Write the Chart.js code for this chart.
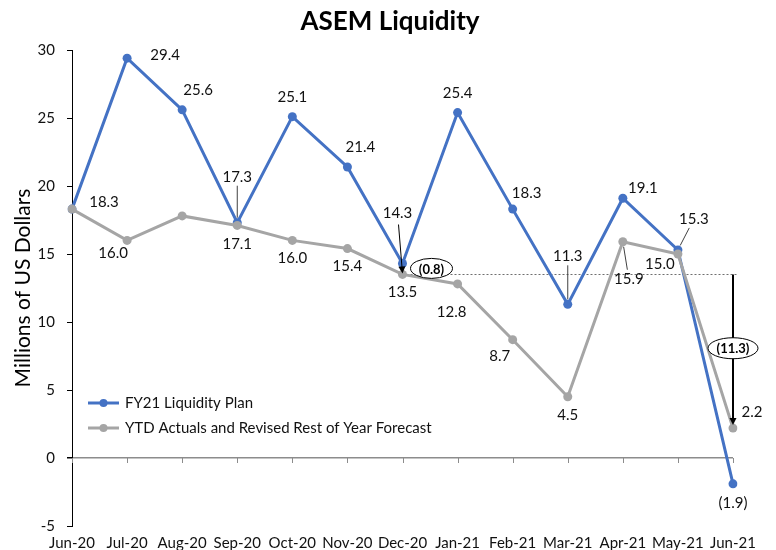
<!DOCTYPE html>
<html>
<head>
<meta charset="utf-8">
<title>ASEM Liquidity</title>
<script src="https://cdn.jsdelivr.net/npm/chart.js@4.4.1/dist/chart.umd.min.js"></script>
<style>
  html, body { margin: 0; padding: 0; background: #fff; }
  #wrap { width: 776px; height: 550px; }
</style>
</head>
<body>
<div id="wrap"><canvas id="chart" width="776" height="550"></canvas></div>
<script>
// Data
const months = ['Jun-20', 'Jul-20', 'Aug-20', 'Sep-20', 'Oct-20', 'Nov-20', 'Dec-20',
                'Jan-21', 'Feb-21', 'Mar-21', 'Apr-21', 'May-21', 'Jun-21'];
const planValues = [18.3, 29.4, 25.6, 17.3, 25.1, 21.4, 14.3, 25.4, 18.3, 11.3, 19.1, 15.3, -1.9];
const actualValues = [18.3, 16.0, 17.8, 17.1, 16.0, 15.4, 13.5, 12.8, 8.7, 4.5, 15.9, 15.0, 2.2];
const yTicks = [-5, 0, 5, 10, 15, 20, 25, 30];
const seriesNames = ['FY21 Liquidity Plan', 'YTD Actuals and Revised Rest of Year Forecast'];
const chartTitle = 'ASEM Liquidity';

// index of the month where the actuals level is used as the reference line
const refIndex = 6;

// label placement (offsets from the point, px); null = no label; third item = leader line
const planLabelPos = [[32, -7], [38, -3], [16, -20], [0, -46, true], [0, -19], [13, -20], [-5, -50],
                      [0, -19], [14, -16], [0, -48, true], [20, -10], [16, -31, true], [0, 19]];
const actualLabelPos = [null, [-14, 13], null, [0, 19], [0, 18], [0, 18], [0, 18],
                        [-6, 28], [-13, 16], [0, 18], [6, 37, true], [-18, 10], [19, -16]];

const BLUE = '#4472C4';
const GREY = '#A5A5A5';
const FONT = 'Lato';

function fmt(v) {
    return v < 0 ? '(' + Math.abs(v).toFixed(1) + ')' : v.toFixed(1);
}

function arrow(ctx, x1, y1, x2, y2, width) {
    const a = Math.atan2(y2 - y1, x2 - x1);
    const head = 7;
    ctx.save();
    ctx.strokeStyle = '#000';
    ctx.fillStyle = '#000';
    ctx.lineWidth = width;
    ctx.beginPath();
    ctx.moveTo(x1, y1);
    ctx.lineTo(x2 - Math.cos(a) * head * 0.8, y2 - Math.sin(a) * head * 0.8);
    ctx.stroke();
    ctx.beginPath();
    ctx.moveTo(x2, y2);
    ctx.lineTo(x2 - head * Math.cos(a) + 3.5 * Math.sin(a), y2 - head * Math.sin(a) - 3.5 * Math.cos(a));
    ctx.lineTo(x2 - head * Math.cos(a) - 3.5 * Math.sin(a), y2 - head * Math.sin(a) + 3.5 * Math.cos(a));
    ctx.closePath();
    ctx.fill();
    ctx.restore();
}

function bubble(ctx, text, cx, cy, rx, ry) {
    ctx.save();
    ctx.beginPath();
    ctx.ellipse(cx, cy, rx, ry, 0, 0, Math.PI * 2);
    ctx.fillStyle = '#fff';
    ctx.fill();
    ctx.strokeStyle = '#000';
    ctx.lineWidth = 1;
    ctx.stroke();
    ctx.fillStyle = '#000';
    ctx.font = 'bold 13px ' + FONT;
    ctx.textAlign = 'center';
    ctx.textBaseline = 'middle';
    ctx.fillText(text, cx, cy + 1);
    ctx.restore();
}

// reference dotted line, x axis tick marks
const underlay = {
    id: 'underlay',
    beforeDatasetsDraw(chart) {
        const { ctx, scales: { x, y } } = chart;
        const y0 = y.getPixelForValue(0);
        ctx.save();
        ctx.strokeStyle = '#8c8c8c';
        ctx.lineWidth = 1;
        months.forEach((m, i) => {
            const px = Math.round(x.getPixelForValue(i)) + 0.5;
            ctx.beginPath();
            ctx.moveTo(px, y0);
            ctx.lineTo(px, y0 + 5);
            ctx.stroke();
        });
        const yr = Math.round(y.getPixelForValue(actualValues[refIndex])) + 0.5;
        ctx.strokeStyle = '#6f6f6f';
        ctx.setLineDash([2, 2]);
        ctx.beginPath();
        ctx.moveTo(x.getPixelForValue(refIndex), yr);
        ctx.lineTo(x.getPixelForValue(months.length - 1) + 4, yr);
        ctx.stroke();
        ctx.restore();
    }
};

// data labels, leader lines, arrows, legend, title
const overlay = {
    id: 'overlay',
    afterDatasetsDraw(chart) {
        const { ctx, scales: { x, y } } = chart;
        ctx.save();

        ctx.fillStyle = '#000';
        ctx.font = 'bold 26px ' + FONT;
        ctx.textAlign = 'center';
        ctx.textBaseline = 'middle';
        ctx.fillText(chartTitle, 390, 22);

        ctx.font = '15px ' + FONT;

        const drawLabels = (values, pos) => {
            values.forEach((v, i) => {
                const p = pos[i];
                if (!p) return;
                const px = x.getPixelForValue(i);
                const py = y.getPixelForValue(v);
                if (p[2]) {
                    const len = Math.hypot(p[0], p[1]);
                    const ts = 5 / len;
                    const te = (Math.abs(p[1]) - 9) / Math.abs(p[1]);
                    ctx.strokeStyle = '#404040';
                    ctx.lineWidth = 1;
                    ctx.beginPath();
                    ctx.moveTo(px + p[0] * ts, py + p[1] * ts);
                    ctx.lineTo(px + p[0] * te, py + p[1] * te);
                    ctx.stroke();
                }
                ctx.fillStyle = '#111';
                ctx.fillText(fmt(v), px + p[0], py + p[1]);
            });
        };
        drawLabels(planValues, planLabelPos);
        drawLabels(actualValues, actualLabelPos);

        // gap at the reference month
        const xr = x.getPixelForValue(refIndex);
        const yr = y.getPixelForValue(actualValues[refIndex]);
        const yp = y.getPixelForValue(planValues[refIndex]);
        arrow(ctx, xr - 4, yp - 39, xr, yr - 1, 1);
        bubble(ctx, fmt(actualValues[refIndex] - planValues[refIndex]), xr + 29, yr - 6, 21, 10);

        // gap at year end
        const last = months.length - 1;
        const xl = x.getPixelForValue(last);
        const ye = y.getPixelForValue(actualValues[last]);
        arrow(ctx, xl, yr, xl, ye - 3, 2);
        bubble(ctx, fmt(actualValues[last] - actualValues[refIndex]), xl, (yr + ye) / 2 - 3, 25, 10.5);

        // legend inside the plot
        chart.data.datasets.forEach((ds, i) => {
            const ly = 403 + i * 25;
            ctx.strokeStyle = ds.borderColor;
            ctx.fillStyle = ds.borderColor;
            ctx.lineWidth = 3;
            ctx.beginPath();
            ctx.moveTo(88, ly);
            ctx.lineTo(119, ly);
            ctx.stroke();
            ctx.beginPath();
            ctx.arc(103.5, ly, 4, 0, Math.PI * 2);
            ctx.fill();
            ctx.fillStyle = '#111';
            ctx.textAlign = 'left';
            ctx.fillText(ds.label, 125, ly);
        });
        ctx.restore();
    }
};

function makeChart() {
    const ctx = document.getElementById('chart').getContext('2d');
    new Chart(ctx, {
        type: 'line',
        data: {
            labels: months,
            datasets: [{
                label: seriesNames[0],
                data: planValues,
                borderColor: BLUE,
                backgroundColor: BLUE,
                borderWidth: 3,
                pointRadius: 4.5,
                pointBorderWidth: 0,
                tension: 0,
                order: 1
            }, {
                label: seriesNames[1],
                data: actualValues,
                borderColor: GREY,
                backgroundColor: GREY,
                borderWidth: 3,
                pointRadius: 4.5,
                pointBorderWidth: 0,
                tension: 0,
                order: 0
            }]
        },
        options: {
            responsive: false,
            animation: false,
            devicePixelRatio: 1,
            layout: { padding: { top: 50, right: 43, bottom: 0, left: 0 } },
            plugins: {
                legend: { display: false },
                tooltip: { enabled: false },
                title: { display: false }
            },
            scales: {
                x: {
                    offset: false,
                    grid: { display: false, drawTicks: false },
                    border: { display: false },
                    ticks: {
                        color: '#111',
                        font: { family: FONT, size: 15 },
                        padding: 8,
                        maxRotation: 0,
                        autoSkip: false
                    },
                    afterFit(scale) { scale.height = 24; }
                },
                y: {
                    min: yTicks[0],
                    max: yTicks[yTicks.length - 1],
                    afterBuildTicks(scale) {
                        scale.ticks = yTicks.map(v => ({ value: v }));
                    },
                    grid: {
                        color: c => c.tick && c.tick.value === 0 ? '#8c8c8c' : 'rgba(0,0,0,0)',
                        lineWidth: c => c.tick && c.tick.value === 0 ? 1.5 : 1,
                        drawTicks: true,
                        tickLength: 5,
                        tickColor: '#000'
                    },
                    border: { display: true, color: '#000', width: 1 },
                    ticks: {
                        color: '#111',
                        font: { family: FONT, size: 15 },
                        padding: 12
                    },
                    title: {
                        display: true,
                        text: 'Millions of US Dollars',
                        color: '#000',
                        font: { family: FONT, size: 21 },
                        padding: { top: 11, bottom: 0 }
                    },
                    afterFit(scale) { scale.width = 72; }
                }
            }
        },
        plugins: [underlay, overlay]
    });
}

Promise.all([
    document.fonts.load('15px ' + FONT),
    document.fonts.load('bold 26px ' + FONT),
    document.fonts.load('21px ' + FONT)
]).then(makeChart, makeChart);
</script>
</body>
</html>
